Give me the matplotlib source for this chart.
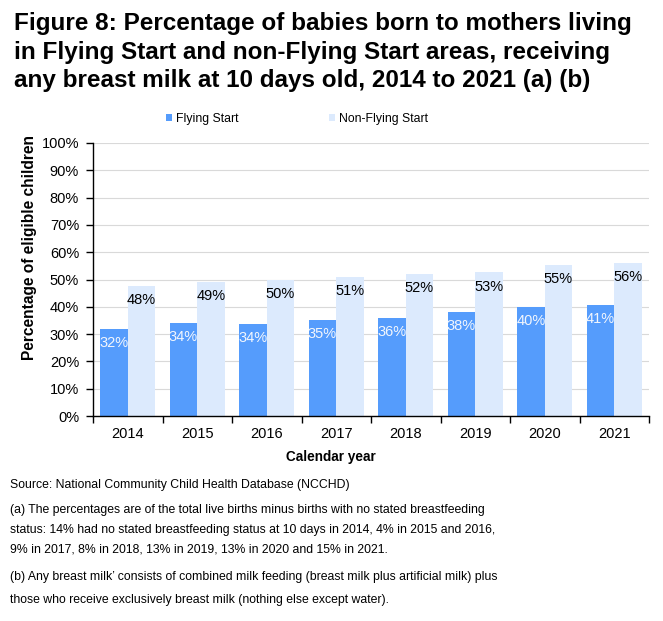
import matplotlib
matplotlib.use("Agg")
import matplotlib.pyplot as plt
import numpy as np

plt.rcParams['font.family'] = ['Liberation Sans', 'DejaVu Sans']

years = ['2014', '2015', '2016', '2017', '2018', '2019', '2020', '2021']
flying_start = [31.9, 34.1, 33.7, 35.2, 35.9, 38.1, 40.0, 40.8]
non_flying_start = [47.7, 49.1, 50.0, 51.0, 52.1, 52.6, 55.4, 56.1]
fs_labels = ['32%', '34%', '34%', '35%', '36%', '38%', '40%', '41%']
nfs_labels = ['48%', '49%', '50%', '51%', '52%', '53%', '55%', '56%']
yticks = list(range(0, 101, 10))

title_lines = ['Figure 8: Percentage of babies born to mothers living',
               'in Flying Start and non-Flying Start areas, receiving',
               'any breast milk at 10 days old, 2014 to 2021 (a) (b)']
note_lines = ['Source: National Community Child Health Database (NCCHD)',
              '(a) The percentages are of the total live births minus births with no stated breastfeeding',
              'status: 14% had no stated breastfeeding status at 10 days in 2014, 4% in 2015 and 2016,',
              '9% in 2017, 8% in 2018, 13% in 2019, 13% in 2020 and 15% in 2021.',
              "(b) Any breast milk\u2019 consists of combined milk feeding (breast milk plus artificial milk) plus",
              'those who receive exclusively breast milk (nothing else except water).']

c_fs = '#559cfc'
c_nfs = '#dceafd'

W, H = 663, 621
fig = plt.figure(figsize=(W / 100, H / 100), dpi=100)
ax = fig.add_axes([93 / W, 1 - 416 / H, (649 - 93) / W, (416 - 143) / H])

x = np.arange(len(years))
w = 0.395
ax.bar(x - w/2, flying_start, w, color=c_fs, label='Flying Start', zorder=2)
ax.bar(x + w/2, non_flying_start, w, color=c_nfs, label='Non-Flying Start', zorder=2)

for xi, v, t in zip(x, flying_start, fs_labels):
    ax.text(xi - w/2, v - 5.1, t, ha='center', va='center', color='#f2f6fc', fontsize=10.5, zorder=3)
for xi, v, t in zip(x, non_flying_start, nfs_labels):
    ax.text(xi + w/2, v - 5.3, t, ha='center', va='center', color='black', fontsize=10.5, zorder=3)

ax.set_xlim(-0.5, len(years) - 0.5)
ax.set_ylim(0, 100)
ax.set_yticks(yticks)
ax.set_yticklabels([f'{t}%' for t in yticks], fontsize=10.5)
ax.set_xticks(x)
ax.set_xticklabels(years, fontsize=10.5)
ax.tick_params(axis='x', length=0, pad=8)
ax.set_xticks(np.arange(-0.5, len(years), 1.0), minor=True)
ax.tick_params(axis='x', which='minor', length=5, width=1)
ax.tick_params(axis='y', length=5, width=1, pad=5)
ax.grid(axis='y', color='#d9d9d9', linewidth=0.8, zorder=0)
for s in ['top', 'right']:
    ax.spines[s].set_visible(False)
ax.spines['left'].set_linewidth(1)
ax.spines['bottom'].set_linewidth(1)

ax.set_xlabel('Calendar year', fontsize=9.8, fontweight='bold')
ax.xaxis.set_label_coords((331 - 93) / (649 - 93), -(457 - 416) / (416 - 143))
ax.xaxis.label.set_va('center')
ax.set_ylabel('Percentage of eligible children', fontsize=11.2, fontweight='bold')
ax.yaxis.set_label_coords(-(93 - 30) / (649 - 93), (416 - 248) / (416 - 143))
ax.yaxis.label.set_va('center')

fig.legend(*ax.get_legend_handles_labels(), loc='center left',
           bbox_to_anchor=(166 / W, 1 - 119 / H), ncol=2, frameon=False,
           prop={'size': 8.8},
           handlelength=0.5, handleheight=0.5, handletextpad=0.33,
           columnspacing=7.4, borderpad=0, borderaxespad=0)

for i, line in enumerate(title_lines):
    fig.text(14 / W, 1 - (30 + 28.5 * i) / H, line, ha='left', va='baseline',
             fontsize=17.5, fontweight='bold')

note_y = [485, 510, 530, 550, 577, 600]
for line, yy in zip(note_lines, note_y):
    fig.text(10 / W, 1 - yy / H, line, ha='left', va='center', fontsize=8.8)

fig.savefig('out.png', dpi=100)
